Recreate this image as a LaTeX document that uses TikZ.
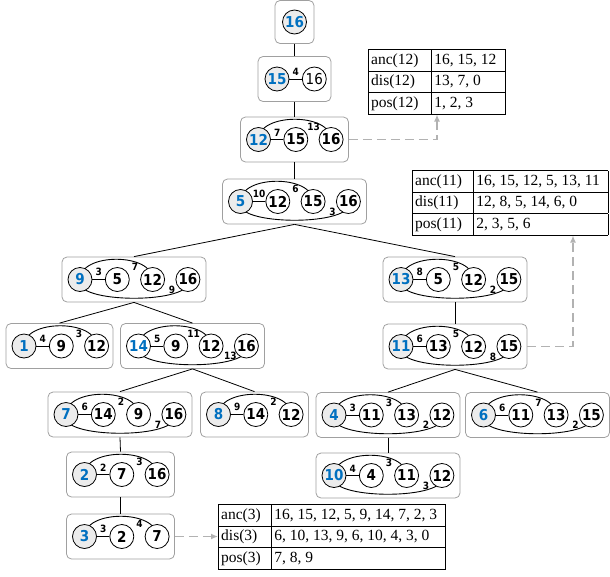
\documentclass[tikz,border=0pt]{standalone}
\usepackage{fontspec}
\newfontfamily\vtxfont{DejaVu Sans Condensed}
\newfontfamily\tabfamily{Liberation Serif}
\usetikzlibrary{positioning,backgrounds,arrows.meta}
\definecolor{idblue}{RGB}{0,112,192}
\definecolor{idfill}{RGB}{236,236,236}
\definecolor{bagline}{RGB}{160,160,160}
\definecolor{ptrline}{RGB}{178,178,178}
\newcommand{\tabfont}{\tabfamily\fontsize{15.5}{18.6}\selectfont}
\newcommand{\wtfont}{\vtxfont\fontsize{10}{10}\selectfont\bfseries}
\renewcommand{\arraystretch}{1.11}
\setlength{\tabcolsep}{3pt}
\setlength{\arrayrulewidth}{0.8pt}
\tikzset{
  bag/.style={draw=bagline, line width=0.8pt, rounded corners=5pt, minimum height=45pt, inner sep=0pt},
  vtx/.style={circle, draw, line width=0.8pt, fill=white, minimum size=24pt, inner sep=0pt,
    font=\vtxfont\fontsize{15}{15}\selectfont\bfseries},
  root/.style={vtx, fill=idfill, text=idblue},
  wt/.style={font=\wtfont, inner sep=0pt},
  wline/.style={line width=1pt},
  arc/.style={line width=0.9pt},
  tree/.style={line width=0.8pt},
  ptr/.style={draw=ptrline, line width=1.3pt, dash pattern=on 9pt off 5pt, -{Latex[length=7pt,width=6pt]}},
  tab/.style={inner sep=0pt, anchor=north west, font=\tabfont},
  node distance=10.5pt
}
\begin{document}
\begin{tikzpicture}[x=1pt,y=1pt]
\useasboundingbox (0,0) rectangle (610,-576);

% bags of the tree
\node[bag, minimum width=39pt, minimum height=43pt] (b16) at (294.5,-22) {};
\node[bag, minimum width=73pt] (b15) at (294.5,-79) {};
\node[bag, minimum width=108pt] (b12) at (294.5,-139.5) {};
\node[bag, minimum width=144pt] (b5) at (294.5,-201.5) {};
\node[bag, minimum width=144pt] (b9) at (134,-279.5) {};
\node[bag, minimum width=144pt] (b13) at (455,-279.5) {};
\node[bag, minimum width=107pt] (b1) at (59.5,-346) {};
\node[bag, minimum width=144pt] (b14) at (192.5,-346) {};
\node[bag, minimum width=144pt] (b11) at (455,-346.5) {};
\node[bag, minimum width=144pt] (b7) at (120,-414.5) {};
\node[bag, minimum width=108pt] (b8) at (254.5,-414.5) {};
\node[bag, minimum width=144pt] (b4) at (388,-415) {};
\node[bag, minimum width=144pt] (b6) at (537.5,-415) {};
\node[bag, minimum width=144pt] (b10) at (388,-475.5) {};
\node[bag, minimum width=108pt] (b2) at (120.5,-474.5) {};
\node[bag, minimum width=108pt] (b3) at (120.5,-536.5) {};

% tree edges
\draw[tree] (b16.south) -- (b15.north);
\draw[tree] (b15.south) -- (b12.north);
\draw[tree] (b12.south) -- (b5.north);
\draw[tree] (b5.south) -- (b9.north);
\draw[tree] (b5.south) -- (b13.north);
\draw[tree] (b9.south) -- (b1.north);
\draw[tree] (b9.south) -- (b14.north);
\draw[tree] (b14.south) -- (b7.north);
\draw[tree] (b14.south) -- (b8.north);
\draw[tree] (b13.south) -- (b11.north);
\draw[tree] (b11.south) -- (b4.north);
\draw[tree] (b11.south) -- (b6.north);
\draw[tree] (b4.south) -- (b10.north);
\draw[tree] (b7.south) -- (b2.north);
\draw[tree] (b2.south) -- (b3.north);

% vertices in the bags
\node[root] (b16-a) at (b16) {16};

\node[root] (b15-a) at ([xshift=-17.5pt]b15.center) {15};
\node[vtx, font=\vtxfont\fontsize{15}{15}\selectfont, right=12.5pt of b15-a] (b15-b) {16};
\draw[wline] (b15-a) -- node[wt, above=3pt] {4} (b15-b);

\node[root, right=6pt of b12.west] (b12-a) {12};
\node[vtx, right=12.5pt of b12-a] (b12-b) {15};
\node[vtx, right=of b12-b] (b12-c) {16};
\draw[wline] (b12-a) -- node[wt, above=3pt] {7} (b12-b);

\node[root, right=6pt of b5.west] (b5-a) {5};
\node[vtx, right=12.5pt of b5-a] (b5-b) {12};
\node[vtx, right=of b5-b] (b5-c) {15};
\node[vtx, right=of b5-c] (b5-d) {16};
\draw[wline] (b5-a) -- node[wt, above=3pt] {10} (b5-b);

\node[root, right=6pt of b9.west] (b9-a) {9};
\node[vtx, right=12.5pt of b9-a] (b9-b) {5};
\node[vtx, right=of b9-b] (b9-c) {12};
\node[vtx, right=of b9-c] (b9-d) {16};
\draw[wline] (b9-a) -- node[wt, above=3pt] {3} (b9-b);

\node[root, right=6pt of b13.west] (b13-a) {13};
\node[vtx, right=12.5pt of b13-a] (b13-b) {5};
\node[vtx, right=of b13-b] (b13-c) {12};
\node[vtx, right=of b13-c] (b13-d) {15};
\draw[wline] (b13-a) -- node[wt, above=3pt] {8} (b13-b);

\node[root, right=6pt of b1.west] (b1-a) {1};
\node[vtx, right=12.5pt of b1-a] (b1-b) {9};
\node[vtx, right=of b1-b] (b1-c) {12};
\draw[wline] (b1-a) -- node[wt, above=3pt] {4} (b1-b);

\node[root, fill=white, right=6pt of b14.west] (b14-a) {14};
\node[vtx, right=12.5pt of b14-a] (b14-b) {9};
\node[vtx, right=of b14-b] (b14-c) {12};
\node[vtx, right=of b14-c] (b14-d) {16};
\draw[wline] (b14-a) -- node[wt, above=3pt] {5} (b14-b);

\node[root, right=6pt of b11.west] (b11-a) {11};
\node[vtx, right=12.5pt of b11-a] (b11-b) {13};
\node[vtx, right=of b11-b] (b11-c) {12};
\node[vtx, right=of b11-c] (b11-d) {15};
\draw[wline] (b11-a) -- node[wt, above=3pt] {6} (b11-b);

\node[root, right=6pt of b7.west] (b7-a) {7};
\node[vtx, right=12.5pt of b7-a] (b7-b) {14};
\node[vtx, right=of b7-b] (b7-c) {9};
\node[vtx, right=of b7-c] (b7-d) {16};
\draw[wline] (b7-a) -- node[wt, above=3pt] {6} (b7-b);

\node[root, right=6pt of b8.west] (b8-a) {8};
\node[vtx, right=12.5pt of b8-a] (b8-b) {14};
\node[vtx, right=of b8-b] (b8-c) {12};
\draw[wline] (b8-a) -- node[wt, above=3pt] {9} (b8-b);

\node[root, right=6pt of b4.west] (b4-a) {4};
\node[vtx, right=12.5pt of b4-a] (b4-b) {11};
\node[vtx, right=of b4-b] (b4-c) {13};
\node[vtx, right=of b4-c] (b4-d) {12};
\draw[wline] (b4-a) -- node[wt, above=3pt] {3} (b4-b);

\node[root, right=6pt of b6.west] (b6-a) {6};
\node[vtx, right=12.5pt of b6-a] (b6-b) {11};
\node[vtx, right=of b6-b] (b6-c) {13};
\node[vtx, right=of b6-c] (b6-d) {15};
\draw[wline] (b6-a) -- node[wt, above=3pt] {6} (b6-b);

\node[root, right=6pt of b10.west] (b10-a) {10};
\node[vtx, right=12.5pt of b10-a] (b10-b) {4};
\node[vtx, right=of b10-b] (b10-c) {11};
\node[vtx, right=of b10-c] (b10-d) {12};
\draw[wline] (b10-a) -- node[wt, above=3pt] {4} (b10-b);

\node[root, right=6pt of b2.west] (b2-a) {2};
\node[vtx, right=12.5pt of b2-a] (b2-b) {7};
\node[vtx, right=of b2-b] (b2-c) {16};
\draw[wline] (b2-a) -- node[wt, above=3pt] {2} (b2-b);

\node[root, right=6pt of b3.west] (b3-a) {3};
\node[vtx, right=12.5pt of b3-a] (b3-b) {2};
\node[vtx, right=of b3-b] (b3-c) {7};
\draw[wline] (b3-a) -- node[wt, above=3pt] {3} (b3-b);

% arcs behind the vertices
\begin{scope}[on background layer]
\draw[arc] (b12-a.center) .. controls +(0,27) and +(0,27) .. node[wt, pos=0.68, below=1pt] {13} (b12-c.center);
\draw[arc] (b5-a.center) .. controls +(0,27) and +(0,27) .. node[wt, pos=0.68, below=1pt] {6} (b5-c.center);
\draw[arc] (b5-a.center) .. controls +(-10,-25) and +(10,-25) .. node[wt, pos=0.735, above=0.5pt] {3} (b5-d.center);
\draw[arc] (b9-a.center) .. controls +(0,27) and +(0,27) .. node[wt, pos=0.68, below=1pt] {7} (b9-c.center);
\draw[arc] (b9-a.center) .. controls +(-10,-25) and +(10,-25) .. node[wt, pos=0.735, above=0.5pt] {9} (b9-d.center);
\draw[arc] (b13-a.center) .. controls +(0,27) and +(0,27) .. node[wt, pos=0.68, below=1pt] {5} (b13-c.center);
\draw[arc] (b13-a.center) .. controls +(-10,-25) and +(10,-25) .. node[wt, pos=0.735, above=0.5pt] {2} (b13-d.center);
\draw[arc] (b1-a.center) .. controls +(0,27) and +(0,27) .. node[wt, pos=0.68, below=1pt] {3} (b1-c.center);
\draw[arc] (b14-a.center) .. controls +(0,27) and +(0,27) .. node[wt, pos=0.68, below=1pt] {11} (b14-c.center);
\draw[arc] (b14-a.center) .. controls +(-10,-25) and +(10,-25) .. node[wt, pos=0.735, above=0.5pt] {13} (b14-d.center);
\draw[arc] (b11-a.center) .. controls +(0,27) and +(0,27) .. node[wt, pos=0.68, below=1pt] {5} (b11-c.center);
\draw[arc] (b11-a.center) .. controls +(-10,-25) and +(10,-25) .. node[wt, pos=0.735, above=0.5pt] {8} (b11-d.center);
\draw[arc] (b7-a.center) .. controls +(0,27) and +(0,27) .. node[wt, pos=0.68, below=1pt] {2} (b7-c.center);
\draw[arc] (b7-a.center) .. controls +(-10,-25) and +(10,-25) .. node[wt, pos=0.735, above=0.5pt] {7} (b7-d.center);
\draw[arc] (b8-a.center) .. controls +(0,27) and +(0,27) .. node[wt, pos=0.68, below=1pt] {2} (b8-c.center);
\draw[arc] (b4-a.center) .. controls +(0,27) and +(0,27) .. node[wt, pos=0.68, below=1pt] {3} (b4-c.center);
\draw[arc] (b4-a.center) .. controls +(-10,-25) and +(10,-25) .. node[wt, pos=0.735, above=0.5pt] {2} (b4-d.center);
\draw[arc] (b6-a.center) .. controls +(0,27) and +(0,27) .. node[wt, pos=0.68, below=1pt] {7} (b6-c.center);
\draw[arc] (b6-a.center) .. controls +(-10,-25) and +(10,-25) .. node[wt, pos=0.735, above=0.5pt] {2} (b6-d.center);
\draw[arc] (b10-a.center) .. controls +(0,27) and +(0,27) .. node[wt, pos=0.68, below=1pt] {3} (b10-c.center);
\draw[arc] (b10-a.center) .. controls +(-10,-25) and +(10,-25) .. node[wt, pos=0.735, above=0.5pt] {3} (b10-d.center);
\draw[arc] (b2-a.center) .. controls +(0,27) and +(0,27) .. node[wt, pos=0.68, below=1pt] {3} (b2-c.center);
\draw[arc] (b3-a.center) .. controls +(0,27) and +(0,27) .. node[wt, pos=0.68, below=1pt] {4} (b3-c.center);
\end{scope}

% tables
\node[tab] (t12) at (368,-49) {\begin{tabular}{|p{57.2pt}|p{68.2pt}|}\hline
anc(12) & 16, 15, 12\\\hline
dis(12) & 13, 7, 0\\\hline
pos(12) & 1, 2, 3\\\hline
\end{tabular}};
\node[tab] (t11) at (412,-170) {\begin{tabular}{|p{55.2pt}|p{128.7pt}|}\hline
anc(11) & 16, 15, 12, 5, 13, 11\\\hline
dis(11) & 12, 8, 5, 14, 6, 0\\\hline
pos(11) & 2, 3, 5, 6\\\hline
\end{tabular}};
\node[tab] (t3) at (218,-504) {\begin{tabular}{|p{47.2pt}|p{168.2pt}|}\hline
anc(3) & 16, 15, 12, 5, 9, 14, 7, 2, 3\\\hline
dis(3) & 6, 10, 13, 9, 6, 10, 4, 3, 0\\\hline
pos(3) & 7, 8, 9\\\hline
\end{tabular}};

% pointers to the tables
\draw[ptr] (b12.east) -| ([xshift=69pt]t12.south west);
\draw[ptr] (b11.east) -| ([xshift=161pt]t11.south west);
\draw[ptr] (b3.east) -- (b3.east -| t3.west);

\end{tikzpicture}
\end{document}
